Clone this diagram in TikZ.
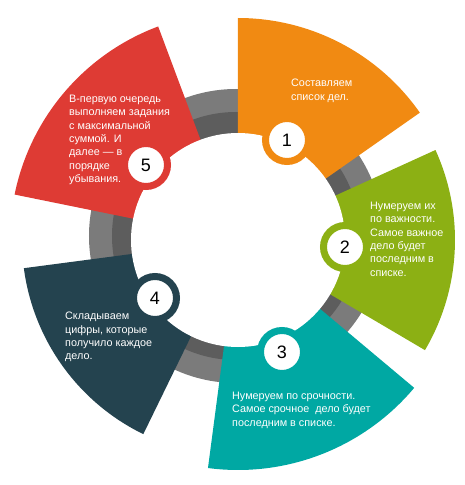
\documentclass[tikz,border=0pt]{standalone}
\usepackage{fontspec}
\setmainfont{Liberation Sans}
\usepackage{tikz}

\definecolor{naranja}{HTML}{F18A12}
\definecolor{verde}{HTML}{8CB014}
\definecolor{turquesa}{HTML}{00A8A3}
\definecolor{azulOscuro}{HTML}{24434F}
\definecolor{rojo}{HTML}{DE3B34}
\definecolor{grisClaro}{HTML}{7B7B7B}
\definecolor{grisOscuro}{HTML}{5D5D5D}

\begin{document}
\begin{tikzpicture}[x=1pt,y=1pt]
    \tikzset{texto/.style = {anchor=north west,align=left,inner sep=0pt,text=white,font=\fontsize{10.8}{13.3}\selectfont}}
    \tikzset{numero/.style = {shape=circle,fill=white,line width=7pt,minimum size=43pt,inner sep=0pt,font=\fontsize{18}{18}\selectfont}}

    \useasboundingbox (-238,-245) rectangle (226,240);

    \fill[grisClaro] (-2,4) circle (147);
    \fill[grisOscuro] (-2,4) circle (124);

    \fill[naranja] (35:100) -- (35:222) arc[start angle=35,end angle=90,radius=222] -- (90:100) arc[start angle=90,end angle=35,radius=100] -- cycle;
    \fill[verde] (-30.5:100) -- (-30.5:217) arc[start angle=-30.5,end angle=24.5,radius=217] -- (24.5:100) arc[start angle=24.5,end angle=-30.5,radius=100] -- cycle;
    \fill[turquesa] (-97.5:100) -- (-97.5:230) arc[start angle=-97.5,end angle=-40,radius=230] -- (-40:100) arc[start angle=-40,end angle=-97.5,radius=100] -- cycle;
    \fill[azulOscuro] (-172.5:100) -- (-172.5:216) arc[start angle=-172.5,end angle=-116,radius=216] -- (-116:100) arc[start angle=-116,end angle=-172.5,radius=100] -- cycle;
    \fill[rojo] (110.5:100) -- (110.5:228) arc[start angle=110.5,end angle=168.5,radius=228] -- (168.5:100) arc[start angle=168.5,end angle=110.5,radius=100] -- cycle;

    \fill[white] (0,0) circle (107);

    \node[numero,draw=naranja] (paso1) at (49,100) {1};
    \node[numero,draw=verde] (paso2) at (107,-7) {2};
    \node[numero,draw=turquesa] (paso3) at (44,-112) {3};
    \node[numero,draw=azulOscuro] (paso4) at (-83,-58) {4};
    \node[numero,draw=rojo] (paso5) at (-92,75) {5};

    \node[texto] (texto1) at (53,161) {Составляем\\список дел.};
    \node[texto] (texto2) at (132,38) {Нумеруем их\\по важности.\\Самое важное\\дело будет\\последним в\\списке.};
    \node[texto] (texto3) at (-6,-152) {Нумеруем по срочности.\\Самое срочное\ \ дело будет\\последним в списке.};
    \node[texto] (texto4) at (-173,-72) {Складываем\\цифры, которые\\получило каждое\\дело.};
    \node[texto] (texto5) at (-169,145) {В-первую очередь\\выполняем задания\\с максимальной\\суммой. И\\далее — в\\порядке\\убывания.};
\end{tikzpicture}
\end{document}
